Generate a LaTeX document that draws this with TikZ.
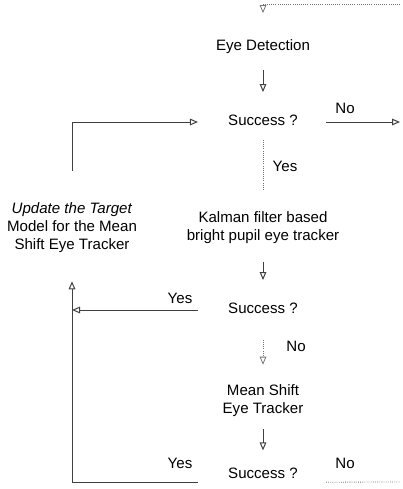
\documentclass[tikz,border=0pt]{standalone}
\usepackage{fontspec}
\setmainfont{Liberation Sans}
\usetikzlibrary{arrows.meta}

\begin{document}
\begin{tikzpicture}[
  x=0.75pt, y=-0.75pt,
  font=\fontsize{11.3}{13.5}\selectfont,
  stage/.style={inner sep=0pt, align=center},
  test/.style={inner sep=0pt, text height=8pt, text depth=2.5pt},
  lbl/.style={inner sep=0pt, text height=8pt, text depth=2.5pt},
  line/.style={draw=black!75, line width=0.75pt},
  faint/.style={draw=black!55, line width=0.6pt, densely dotted},
  arrow/.style={line, -{Triangle[open, length=6pt, width=5pt]}},
  farrow/.style={faint, -{Triangle[open, length=6pt, width=5pt]}}
]
\useasboundingbox (0,0) rectangle (403,489);

% main column
\node[stage] (eyedet) at (263,47) {Eye Detection};
\node[test] (succ1) at (263,122) {Success ?};
\node[stage] (kalman) at (263,228) {Kalman filter based\\bright pupil eye tracker};
\node[test] (succ2) at (263,310) {Success ?};
\node[stage] (mean) at (263,401) {Mean Shift\\Eye Tracker};
\node[test] (succ3) at (263,475) {Success ?};

% update box on the left
\node[stage] (update) at (72,228) {\textit{Update the Target}\\Model for the Mean\\Shift Eye Tracker};

% free ends
\coordinate (entry) at (400,4);
\coordinate (exit1) at (400,122);
\coordinate (exit3) at (400,482);

% labels
\node[lbl] (no1) at (345,110) {No};
\node[lbl] (yes1) at (285,168) {Yes};
\node[lbl] (yes2) at (180,300) {Yes};
\node[lbl] (no2) at (296,348) {No};
\node[lbl] (yes3) at (180,465) {Yes};
\node[lbl] (no3) at (345,465) {No};

% connectors
\draw[farrow, shorten >=20pt] (entry) -| (eyedet.north);
\draw[arrow, shorten <=12pt, shorten >=17pt] (eyedet.south) -- (succ1.north);
\draw[arrow, shorten <=21pt] (succ1.east) -- (exit1);
\draw[faint, shorten <=8pt, shorten >=16pt] (succ1.south) -- (kalman.north);
\draw[arrow, shorten <=13pt, shorten >=17pt] (kalman.south) -- (succ2.north);
\draw[farrow, shorten <=17pt, shorten >=15pt] (succ2.south) -- (mean.north);
\draw[arrow, shorten <=9pt, shorten >=13pt] (mean.south) -- (succ3.north);
\draw[faint, shorten <=21pt] (succ3.south east) -- (exit3);

% feedback loop
\draw[arrow, shorten <=22.5pt] (succ2.west) -- (succ2.west -| update.south);
\draw[arrow, shorten <=22.5pt, shorten >=21pt] (succ3.south west) -| (update.south);
\draw[arrow, shorten <=24pt, shorten >=22.5pt] (update.north) |- (succ1.west);
\end{tikzpicture}
\end{document}
